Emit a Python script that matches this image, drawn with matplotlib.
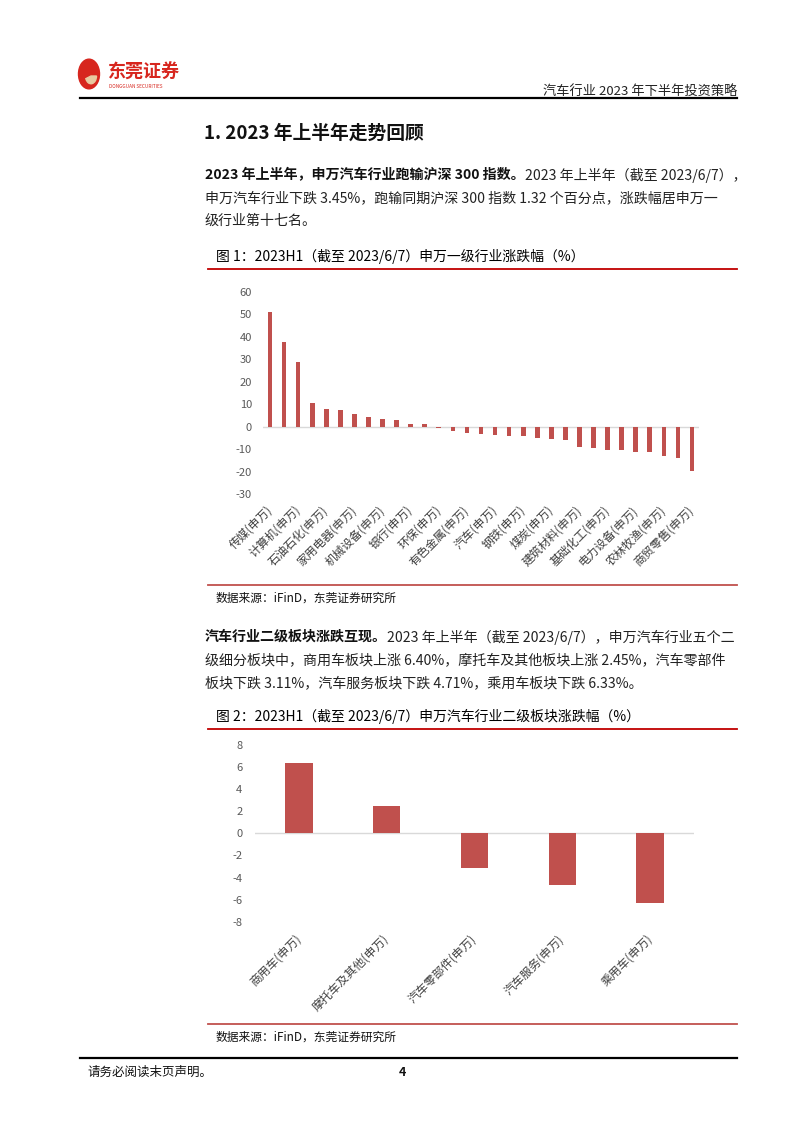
#import neccessary libraries
import matplotlib
matplotlib.use("Agg")
import matplotlib.pyplot as plt
from matplotlib.patches import Circle, Wedge

plt.rcParams['font.family'] = ['Noto Sans CJK SC', 'DejaVu Sans']

#data for figure 1 (SW level-1 industries, only every other label is shown)
industries = ['传媒', '通信', '计算机', '电子', '石油石化', '公用事业', '家用电器', '建筑装饰',
              '机械设备', '非银金融', '银行', '纺织服饰', '环保', '国防军工', '有色金属', '医药生物',
              '汽车', '轻工制造', '钢铁', '交通运输', '煤炭', '食品饮料', '建筑材料', '综合',
              '基础化工', '房地产', '电力设备', '社会服务', '农林牧渔', '美容护理', '商贸零售']
industry_chg = [50.9, 37.6, 28.7, 10.5, 8.0, 7.4, 5.6, 4.4, 3.6, 3.1, 1.2, 1.0, -0.5, -1.8, -3.0, -3.4,
                -3.7, -4.1, -4.3, -4.9, -5.6, -5.9, -9.2, -9.6, -10.2, -10.2, -11.1, -11.4, -12.9, -13.8, -19.8]
y1_ticks = [60, 50, 40, 30, 20, 10, 0, -10, -20, -30]

#data for figure 2 (auto sub sectors)
sub_sectors = ['商用车', '摩托车及其他', '汽车零部件', '汽车服务', '乘用车']
sub_chg = [6.40, 2.45, -3.11, -4.71, -6.33]
y2_ticks = [8, 6, 4, 2, 0, -2, -4, -6, -8]

W, H = 802, 1133
BAR = '#C0504D'
RED = '#C00000'
BODY = 10.1

fig = plt.figure(figsize=(W / 100, H / 100), dpi=100)
renderer = fig.canvas.get_renderer()


#helper: pixel coords (from top-left) -> figure coords
def px(x, y):
    return x / W, 1 - y / H


def hline(y, x0, x1, color, lw):
    fig.add_artist(plt.Line2D([x0 / W, x1 / W], [1 - y / H, 1 - y / H], color=color, lw=lw))


#text with a bold lead-in followed by regular text
def mixed(x, y, bold, rest, size):
    t = fig.text(*px(x, y), bold, fontsize=size, fontweight='bold', va='center', color='#111111')
    w = t.get_window_extent(renderer=renderer).width
    fig.text(*px(x + w, y), rest, fontsize=size, va='center', color='#222222')


#header with logo
fig.add_artist(Circle(px(89, 74), 10.5 / W, transform=fig.transFigure, color='#D7261E'))
fig.add_artist(Wedge(px(91, 76), 5.5 / W, 200, 360, transform=fig.transFigure, color='#E8C9A0'))
fig.text(*px(108, 72), '东莞证券', fontsize=13, fontweight='bold', color='#D7261E', va='center')
fig.text(*px(109, 86), 'DONGGUAN SECURITIES', fontsize=3.4, color='#D7261E', va='center')
fig.text(*px(737, 91), '汽车行业 2023 年下半年投资策略', fontsize=9.5, ha='right', va='center', color='#222222')
hline(97.5, 80, 737, 'black', 1.6)

#section heading and paragraph 1
fig.text(*px(204, 133), '1. 2023 年上半年走势回顾', fontsize=13.5, fontweight='bold', va='center', color='#111111')
mixed(205, 175, '2023 年上半年，申万汽车行业跑输沪深 300 指数。', '2023 年上半年（截至 2023/6/7），', BODY)
fig.text(*px(205, 198), '申万汽车行业下跌 3.45%，跑输同期沪深 300 指数 1.32 个百分点，涨跌幅居申万一',
         fontsize=BODY, va='center', color='#222222')
fig.text(*px(205, 221), '级行业第十七名。', fontsize=BODY, va='center', color='#222222')

#figure 1 title
fig.text(*px(216, 256), '图 1：2023H1（截至 2023/6/7）申万一级行业涨跌幅（%）', fontsize=10, va='center', color='#000000')
hline(269, 208, 737, RED, 1.3)

ax1 = fig.add_axes([263 / W, 639 / H, 436 / W, 202 / H])
x1 = list(range(len(industries)))
ax1.bar(x1, industry_chg, width=0.33, color=BAR)
ax1.axhline(0, color='#D9D9D9', lw=1, zorder=0)
ax1.set_xlim(-0.5, len(industries) - 0.5)
ax1.set_ylim(-30, 60)
ax1.set_yticks(y1_ticks)
ax1.set_yticklabels([str(v) for v in y1_ticks], fontsize=8, color='#595959')
ax1.set_xticks(x1[::2])
ax1.set_xticklabels([n + '(申万)' for n in industries[::2]], rotation=45, ha='right', va='center',
                    rotation_mode='anchor', fontsize=8.5, color='#404040')
ax1.tick_params(length=0)
ax1.tick_params(axis='y', pad=8)
ax1.tick_params(axis='x', pad=10)
for s in ax1.spines.values():
    s.set_visible(False)

#source 1
hline(585, 208, 737, '#C0504D', 1.3)
fig.text(*px(216, 598), '数据来源：iFinD，东莞证券研究所', fontsize=8.5, va='center', color='#111111')

#paragraph 2
mixed(205, 637, '汽车行业二级板块涨跌互现。', '2023 年上半年（截至 2023/6/7），申万汽车行业五个二', BODY)
fig.text(*px(205, 660), '级细分板块中，商用车板块上涨 6.40%，摩托车及其他板块上涨 2.45%，汽车零部件',
         fontsize=BODY, va='center', color='#222222')
fig.text(*px(205, 683), '板块下跌 3.11%，汽车服务板块下跌 4.71%，乘用车板块下跌 6.33%。',
         fontsize=BODY, va='center', color='#222222')

#figure 2 title
fig.text(*px(216, 716), '图 2：2023H1（截至 2023/6/7）申万汽车行业二级板块涨跌幅（%）', fontsize=10, va='center', color='#000000')
hline(729, 208, 737, RED, 1.3)

ax2 = fig.add_axes([255 / W, 211.3 / H, 439 / W, 176.7 / H])
x2 = list(range(len(sub_sectors)))
ax2.bar(x2, sub_chg, width=0.31, color=BAR)
ax2.axhline(0, color='#D9D9D9', lw=1, zorder=0)
ax2.set_xlim(-0.5, len(sub_sectors) - 0.5)
ax2.set_ylim(-8, 8)
ax2.set_yticks(y2_ticks)
ax2.set_yticklabels([str(v) for v in y2_ticks], fontsize=8, color='#595959')
ax2.set_xticks(x2)
ax2.set_xticklabels([n + '(申万)' for n in sub_sectors], rotation=45, ha='right', va='center',
                    rotation_mode='anchor', fontsize=8.5, color='#404040')
ax2.tick_params(length=0)
ax2.tick_params(axis='y', pad=9)
ax2.tick_params(axis='x', pad=11)
for s in ax2.spines.values():
    s.set_visible(False)

#source 2
hline(1024, 208, 737, '#C0504D', 1.3)
fig.text(*px(216, 1037), '数据来源：iFinD，东莞证券研究所', fontsize=8.5, va='center', color='#111111')

#footer
hline(1058, 80, 737, 'black', 1.6)
fig.text(*px(88, 1072), '请务必阅读末页声明。', fontsize=9, va='center', color='#111111')
fig.text(*px(402, 1072), '4', fontsize=9, fontweight='bold', ha='center', va='center', color='#111111')

fig.savefig('out.png', dpi=100)
